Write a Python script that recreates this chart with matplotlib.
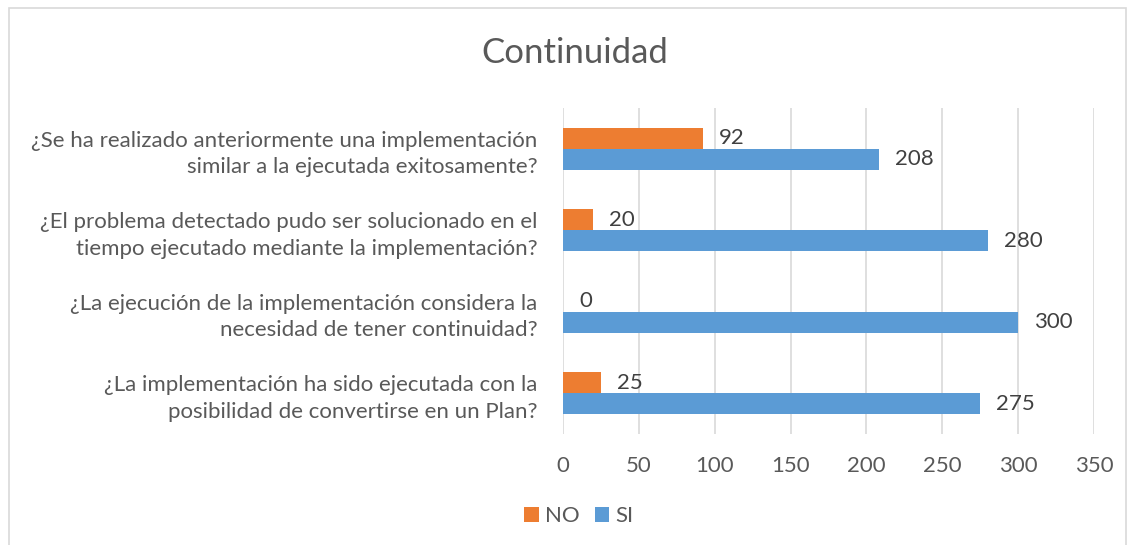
import matplotlib.pyplot as plt
from matplotlib.patches import Rectangle

# data
preguntas = [
    "¿Se ha realizado anteriormente una implementación\nsimilar a la ejecutada exitosamente?",
    "¿El problema detectado pudo ser solucionado en el\ntiempo ejecutado mediante la implementación?",
    "¿La ejecución de la implementación considera la\nnecesidad de tener continuidad?",
    "¿La implementación ha sido ejecutada con la\nposibilidad de convertirse en un Plan?",
]
no_vals = [92, 20, 0, 25]
si_vals = [208, 280, 300, 275]
x_ticks = [0, 50, 100, 150, 200, 250, 300, 350]

plt.rcParams['font.family'] = ['Lato', 'DejaVu Sans']

W, H = 1128, 545
fig = plt.figure(figsize=(W / 100, H / 100), dpi=100)

# light grey frame round the chart
fig.patches.append(Rectangle((9 / W, -0.01), (1126 - 9) / W, 1 - 8 / H + 0.01,
                             transform=fig.transFigure, fill=False,
                             edgecolor='#d9d9d9', linewidth=1.2))

ax = fig.add_axes([563 / W, 1 - 434 / H, (1094 - 563) / W, (434 - 108) / H])

y = list(range(len(preguntas)))
h = 0.258
ax.barh([i - h / 2 for i in y], no_vals, height=h, color='#ED7D31', label='NO', zorder=3)
ax.barh([i + h / 2 for i in y], si_vals, height=h, color='#5B9BD5', label='SI', zorder=3)

for i in y:
    ax.annotate(str(no_vals[i]), (no_vals[i], i - h / 2), xytext=(11.5, 0),
                textcoords='offset points', va='center', ha='left',
                fontsize=16, color='#404040')
    ax.annotate(str(si_vals[i]), (si_vals[i], i + h / 2), xytext=(11.5, 0),
                textcoords='offset points', va='center', ha='left',
                fontsize=16, color='#404040')

ax.set_xlim(0, 350)
ax.set_ylim(len(preguntas) - 0.5, -0.5)
ax.set_xticks(x_ticks)
ax.set_yticks(y)
ax.set_yticklabels(preguntas, fontsize=16, color='#595959', ha='right',
                   multialignment='right', linespacing=1.4)
ax.tick_params(axis='x', length=0, pad=16, labelsize=16, labelcolor='#595959')
ax.tick_params(axis='y', length=0, pad=18.5)
ax.grid(axis='x', color='#d9d9d9', linewidth=1.2, zorder=0)
for s in ax.spines.values():
    s.set_visible(False)

fig.text(575 / W, 1 - 53 / H, 'Continuidad', ha='center', va='center',
         fontsize=25, color='#595959')

fig.legend(loc='center', bbox_to_anchor=(579 / W, 1 - 516 / H), ncol=2,
           frameon=False, fontsize=16, labelcolor='#595959',
           handlelength=0.64, handleheight=0.64, handletextpad=0.28,
           columnspacing=0.7)

fig.savefig('out.png', dpi=100)
